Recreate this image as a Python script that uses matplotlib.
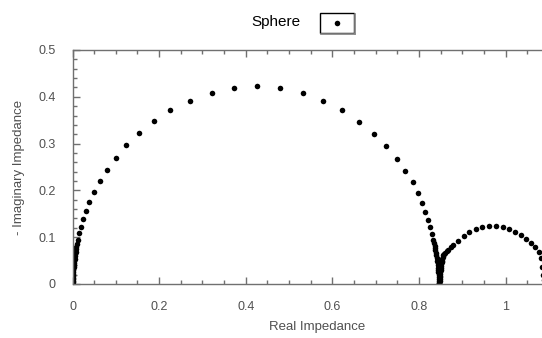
import matplotlib.pyplot as plt
import matplotlib.patches as mpatches
from matplotlib.lines import Line2D
from matplotlib.ticker import MultipleLocator, FuncFormatter

plt.rcParams['font.family'] = ['Liberation Sans', 'DejaVu Sans']

# Datos (primer semicirculo)
real_arc1 = [0.0000, 0.0001, 0.0002, 0.0003, 0.0005, 0.0007, 0.001, 0.0013, 0.0016, 0.002,
             0.0025, 0.003, 0.0036, 0.0042, 0.0049, 0.0056, 0.0064, 0.0072, 0.0080, 0.0088,
             0.0097, 0.012, 0.0157, 0.0196, 0.025, 0.031, 0.039, 0.050, 0.0635, 0.080,
             0.100, 0.1236, 0.153, 0.187, 0.226, 0.271, 0.321, 0.372, 0.425, 0.479,
             0.532, 0.579, 0.623, 0.662, 0.696, 0.724, 0.749, 0.768, 0.785, 0.797,
             0.807, 0.815, 0.821, 0.826, 0.830, 0.833, 0.835, 0.836, 0.837, 0.838,
             0.839, 0.840, 0.841, 0.842, 0.843, 0.844, 0.844, 0.845, 0.845, 0.846,
             0.846, 0.847, 0.847, 0.847]
imag_arc1 = [0.001, 0.004, 0.007, 0.010, 0.013, 0.017, 0.021, 0.025, 0.029, 0.033,
             0.037, 0.041, 0.045, 0.050, 0.054, 0.059, 0.064, 0.069, 0.074, 0.079,
             0.0845, 0.095, 0.108, 0.122, 0.138, 0.156, 0.175, 0.196, 0.219, 0.244,
             0.270, 0.296, 0.323, 0.349, 0.372, 0.391, 0.408, 0.419, 0.422, 0.418,
             0.408, 0.391, 0.371, 0.347, 0.321, 0.294, 0.268, 0.242, 0.218, 0.195,
             0.173, 0.153, 0.136, 0.121, 0.107, 0.094, 0.088, 0.082, 0.077, 0.072,
             0.066, 0.061, 0.056, 0.050, 0.045, 0.040, 0.035, 0.030, 0.025, 0.020,
             0.015, 0.010, 0.006, 0.002]

# Segundo semicirculo
real_arc2 = [0.847, 0.848, 0.848, 0.848, 0.849, 0.849, 0.849, 0.850, 0.850, 0.851,
             0.851, 0.852, 0.853, 0.854, 0.855, 0.856, 0.858, 0.861, 0.864,
             0.868, 0.873, 0.878, 0.889, 0.903, 0.916, 0.931, 0.946, 0.962, 0.977, 0.993,
             1.007, 1.022, 1.035, 1.047, 1.059, 1.068, 1.076, 1.081, 1.084, 1.087, 1.089]
imag_arc2 = [0.002, 0.006, 0.010, 0.014, 0.018, 0.022, 0.026, 0.030, 0.034, 0.038,
             0.042, 0.046, 0.050, 0.054, 0.058, 0.061, 0.064, 0.067, 0.070,
             0.073, 0.078, 0.083, 0.092, 0.103, 0.111, 0.117, 0.121, 0.123, 0.123, 0.121,
             0.117, 0.111, 0.104, 0.097, 0.088, 0.079, 0.069, 0.055, 0.037, 0.020, 0.008]

real_z = real_arc1 + real_arc2
imag_z = imag_arc1 + imag_arc2

fig = plt.figure(figsize=(5.42, 3.38), dpi=100)
ax = fig.add_axes([0.1338, 0.1598, 0.8662, 0.6923])

ax.plot(real_z, imag_z, 'o', color='black', markersize=4.0, markeredgewidth=0, clip_on=True)

ax.set_xlim(0, 1.084)
ax.set_ylim(0, 0.5)

gray = '#707070'
for side in ['left', 'bottom', 'top']:
    ax.spines[side].set_color(gray)
    ax.spines[side].set_linewidth(1.0)
ax.spines['right'].set_visible(False)

ax.xaxis.set_major_locator(MultipleLocator(0.2))
ax.xaxis.set_minor_locator(MultipleLocator(0.05))
ax.yaxis.set_major_locator(MultipleLocator(0.1))
ax.yaxis.set_minor_locator(MultipleLocator(0.02))
fmt = FuncFormatter(lambda v, p: '%g' % round(v, 3))
ax.xaxis.set_major_formatter(fmt)
ax.yaxis.set_major_formatter(fmt)

ax.tick_params(which='both', direction='in', top=True, right=False, colors='#505050',
               labelsize=9, color=gray)
ax.tick_params(which='major', length=5, width=1)
ax.tick_params(which='minor', length=3, width=1)
ax.tick_params(axis='x', pad=12)
ax.tick_params(axis='y', pad=12)

ax.set_xlabel('Real Impedance', fontsize=9.5, color='#505050')
ax.xaxis.set_label_coords(0.52, -0.16)
ax.set_ylabel('- Imaginary Impedance', fontsize=9.5, color='#505050', labelpad=10)

# Leyenda dibujada a mano
fig.text(0.554, 0.935, 'Sphere', fontsize=11, ha='right', va='center', color='black')
fig.patches.append(mpatches.Rectangle((0.590, 0.903), 0.063, 0.058, transform=fig.transFigure,
                                      facecolor='white', edgecolor='black', linewidth=1.0))
fig.lines.append(Line2D([0.5925, 0.6555], [0.9005, 0.9005], transform=fig.transFigure,
                        color='#888888', linewidth=1.2))
fig.lines.append(Line2D([0.6555, 0.6555], [0.9005, 0.958], transform=fig.transFigure,
                        color='#888888', linewidth=1.2))
fig.lines.append(Line2D([0.6215], [0.932], transform=fig.transFigure, marker='o',
                        color='black', markersize=4.0, markeredgewidth=0, linestyle='none'))

fig.savefig('out.png', dpi=100)
